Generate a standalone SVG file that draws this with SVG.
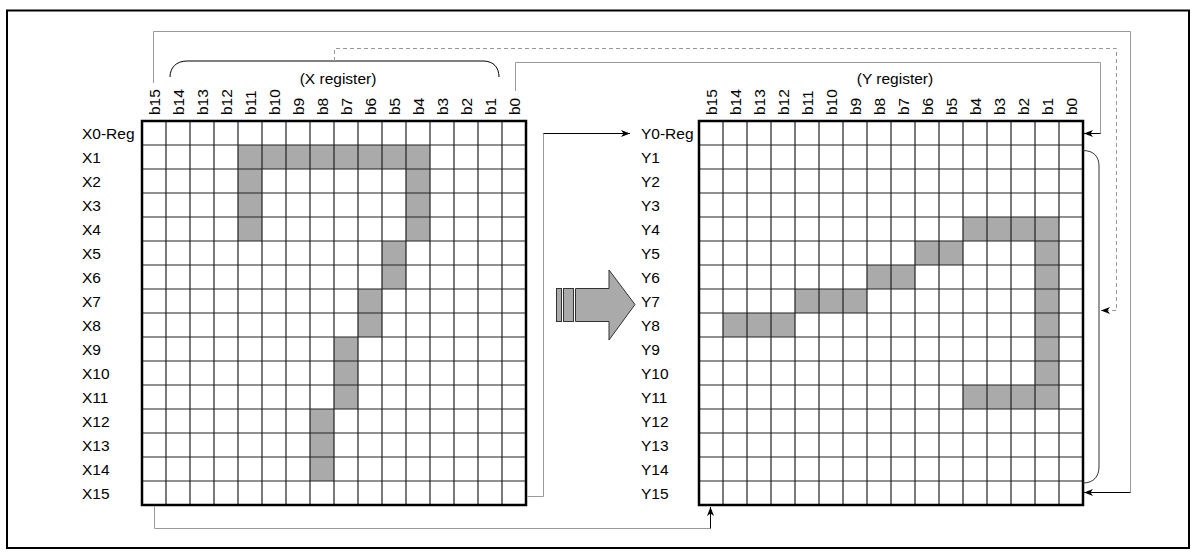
<svg xmlns="http://www.w3.org/2000/svg" xmlns:xlink="http://www.w3.org/1999/xlink" width="1194" height="552" viewBox="0 0 1194 552">
<style>
text{font-family:"Liberation Sans",Arial,sans-serif;font-size:15.5px;fill:#000}
.sh{fill:#aaaaaa;stroke:none}
.gl{fill:none;stroke:#222;stroke-width:1.2}
.gb{fill:none;stroke:#000;stroke-width:2.5}
.gray{fill:none;stroke:#999;stroke-width:1}
.dash{fill:none;stroke:#999;stroke-width:1;stroke-dasharray:4 3}
.blk{fill:none;stroke:#000;stroke-width:1}
</style>
<defs>
<marker id="ah" viewBox="-10 -5 10 10" refX="0" refY="0" markerWidth="10" markerHeight="10" markerUnits="userSpaceOnUse" orient="auto">
<path d="M0,0 L-9,-3.5 L-6.5,0 L-9,3.5 Z" fill="#000"/>
</marker>
<g id="grid">
<path class="gl" d="M24,0V384M48,0V384M72,0V384M96,0V384M120,0V384M144,0V384M168,0V384M192,0V384M216,0V384M240,0V384M264,0V384M288,0V384M312,0V384M336,0V384M360,0V384M0,24H384M0,48H384M0,72H384M0,96H384M0,120H384M0,144H384M0,168H384M0,192H384M0,216H384M0,240H384M0,264H384M0,288H384M0,312H384M0,336H384M0,360H384"/>
<rect class="gb" x="0" y="0" width="384" height="384"/>
</g>
</defs>
<rect x="7" y="10.5" width="1182" height="537.5" fill="#fff" stroke="#000" stroke-width="2"/>

<g id="x-register">
<rect class="sh" x="238" y="145" width="192" height="24"/>
<rect class="sh" x="238" y="169" width="24" height="72"/>
<rect class="sh" x="406" y="169" width="24" height="72"/>
<rect class="sh" x="382" y="241" width="24" height="48"/>
<rect class="sh" x="358" y="289" width="24" height="48"/>
<rect class="sh" x="334" y="337" width="24" height="72"/>
<rect class="sh" x="310" y="409" width="24" height="72"/>
<use xlink:href="#grid" href="#grid" x="142" y="121"/>
<text x="82" y="138.5">X0-Reg</text>
<text x="82" y="162.5">X1</text>
<text x="82" y="186.5">X2</text>
<text x="82" y="210.5">X3</text>
<text x="82" y="234.5">X4</text>
<text x="82" y="258.5">X5</text>
<text x="82" y="282.5">X6</text>
<text x="82" y="306.5">X7</text>
<text x="82" y="330.5">X8</text>
<text x="82" y="354.5">X9</text>
<text x="82" y="378.5">X10</text>
<text x="82" y="402.5">X11</text>
<text x="82" y="426.5">X12</text>
<text x="82" y="450.5">X13</text>
<text x="82" y="474.5">X14</text>
<text x="82" y="498.5">X15</text>
<text transform="translate(159.5,115) rotate(-90)">b15</text>
<text transform="translate(183.5,115) rotate(-90)">b14</text>
<text transform="translate(207.5,115) rotate(-90)">b13</text>
<text transform="translate(231.5,115) rotate(-90)">b12</text>
<text transform="translate(255.5,115) rotate(-90)">b11</text>
<text transform="translate(279.5,115) rotate(-90)">b10</text>
<text transform="translate(303.5,115) rotate(-90)">b9</text>
<text transform="translate(327.5,115) rotate(-90)">b8</text>
<text transform="translate(351.5,115) rotate(-90)">b7</text>
<text transform="translate(375.5,115) rotate(-90)">b6</text>
<text transform="translate(399.5,115) rotate(-90)">b5</text>
<text transform="translate(423.5,115) rotate(-90)">b4</text>
<text transform="translate(447.5,115) rotate(-90)">b3</text>
<text transform="translate(471.5,115) rotate(-90)">b2</text>
<text transform="translate(495.5,115) rotate(-90)">b1</text>
<text transform="translate(519.5,115) rotate(-90)">b0</text>
<text x="338" y="84" text-anchor="middle">(X register)</text>
<path class="blk" d="M170,77 C170,68 176,61 187,61 L483,61 C494,61 499,68 499,77"/>
</g>

<g id="y-register">
<rect class="sh" x="963" y="217" width="96" height="24"/>
<rect class="sh" x="915" y="241" width="48" height="24"/>
<rect class="sh" x="867" y="265" width="48" height="24"/>
<rect class="sh" x="795" y="289" width="72" height="24"/>
<rect class="sh" x="723" y="313" width="72" height="24"/>
<rect class="sh" x="1035" y="241" width="24" height="144"/>
<rect class="sh" x="963" y="385" width="96" height="24"/>
<use xlink:href="#grid" href="#grid" x="699" y="121"/>
<text x="641" y="138.5">Y0-Reg</text>
<text x="641" y="162.5">Y1</text>
<text x="641" y="186.5">Y2</text>
<text x="641" y="210.5">Y3</text>
<text x="641" y="234.5">Y4</text>
<text x="641" y="258.5">Y5</text>
<text x="641" y="282.5">Y6</text>
<text x="641" y="306.5">Y7</text>
<text x="641" y="330.5">Y8</text>
<text x="641" y="354.5">Y9</text>
<text x="641" y="378.5">Y10</text>
<text x="641" y="402.5">Y11</text>
<text x="641" y="426.5">Y12</text>
<text x="641" y="450.5">Y13</text>
<text x="641" y="474.5">Y14</text>
<text x="641" y="498.5">Y15</text>
<text transform="translate(716.5,115) rotate(-90)">b15</text>
<text transform="translate(740.5,115) rotate(-90)">b14</text>
<text transform="translate(764.5,115) rotate(-90)">b13</text>
<text transform="translate(788.5,115) rotate(-90)">b12</text>
<text transform="translate(812.5,115) rotate(-90)">b11</text>
<text transform="translate(836.5,115) rotate(-90)">b10</text>
<text transform="translate(860.5,115) rotate(-90)">b9</text>
<text transform="translate(884.5,115) rotate(-90)">b8</text>
<text transform="translate(908.5,115) rotate(-90)">b7</text>
<text transform="translate(932.5,115) rotate(-90)">b6</text>
<text transform="translate(956.5,115) rotate(-90)">b5</text>
<text transform="translate(980.5,115) rotate(-90)">b4</text>
<text transform="translate(1004.5,115) rotate(-90)">b3</text>
<text transform="translate(1028.5,115) rotate(-90)">b2</text>
<text transform="translate(1052.5,115) rotate(-90)">b1</text>
<text transform="translate(1076.5,115) rotate(-90)">b0</text>
<text x="895" y="84" text-anchor="middle">(Y register)</text>
<path fill="none" stroke="#333" stroke-width="1" d="M1083,150.5 C1094,150.5 1099,157 1099,166 L1099,467 C1099,476 1094,483 1083,483"/>
</g>

<g id="block-arrow" fill="#aaaaaa" stroke="#333" stroke-width="1">
<rect x="556.5" y="288.5" width="5" height="33"/>
<rect x="563.5" y="288.5" width="10" height="33"/>
<polygon points="575.5,288.5 609,288.5 609,270 635,304.5 609,340 609,321.5 575.5,321.5"/>
</g>

<g id="connectors">
<polyline class="gray" points="153.5,83 153.5,31.5 1130.5,31.5 1130.5,492.5"/>
<line class="blk" x1="1130.5" y1="492.5" x2="1084" y2="492.5" marker-end="url(#ah)"/>
<polyline class="gray" points="515.5,91 515.5,62.5 1100.5,62.5 1100.5,133.5"/>
<line class="blk" x1="1100.5" y1="133.5" x2="1084" y2="133.5" marker-end="url(#ah)"/>
<polyline class="dash" points="334.5,61 334.5,48.5 1116.5,48.5 1116.5,310.5 1101,310.5" marker-end="url(#ah)"/>
<polyline class="gray" points="154.5,506 154.5,528.5 710.5,528.5"/>
<line class="blk" x1="710.5" y1="528.5" x2="710.5" y2="507" marker-end="url(#ah)"/>
<polyline class="gray" points="527,496.5 543.5,496.5 543.5,133.5"/>
<line class="blk" x1="543.5" y1="133.5" x2="630" y2="133.5" marker-end="url(#ah)"/>
</g>
</svg>
